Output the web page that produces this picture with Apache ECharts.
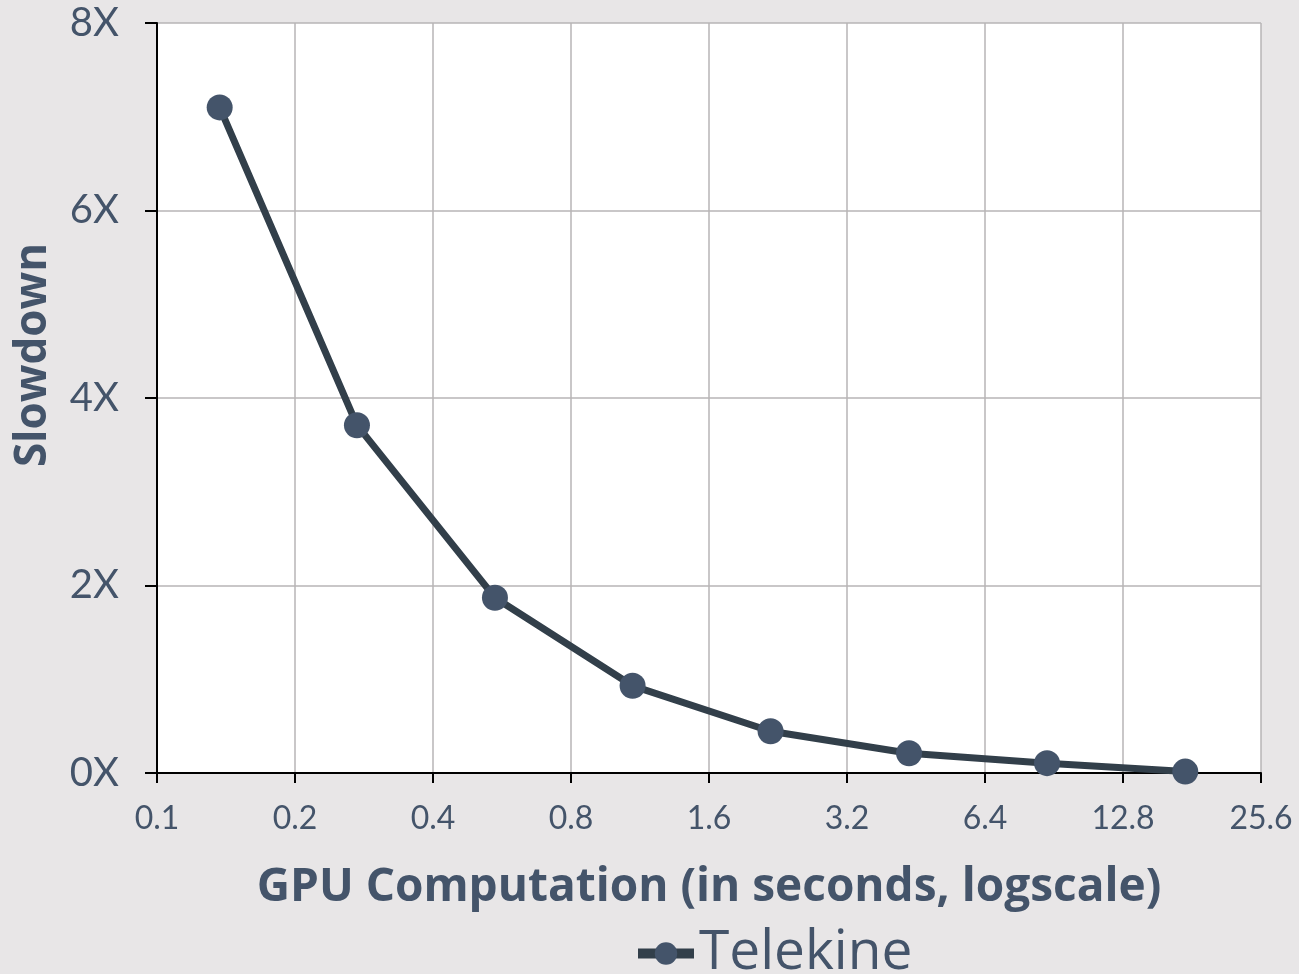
<!DOCTYPE html>
<html><head><meta charset="utf-8">
<script src="https://cdn.jsdelivr.net/npm/echarts@6/dist/echarts.min.js"></script>
<style>html,body{margin:0;padding:0;background:#e8e6e7;}#c{width:1299px;height:974px;}</style>
</head><body><div id="c"></div>
<script>
// GPU computation time in seconds (log scale, base 2)
const gpuSeconds = [0.137, 0.273, 0.546, 1.09, 2.18, 4.37, 8.74, 17.5];
// Slowdown factor
const telekine = [7.10, 3.71, 1.87, 0.93, 0.445, 0.21, 0.105, 0.015];
const xTickLabels = ['0.1','0.2','0.4','0.8','1.6','3.2','6.4','12.8','25.6'];
const yTickLabels = ['0X','2X','4X','6X','8X'];
const xBase = 0.1;

const textColor = '#44546a';
const font = 'Lato';
const boldFont = 'Open Sans';
const chart = echarts.init(document.getElementById('c'), null, {renderer:'canvas'});
const pts = gpuSeconds.map((s,i)=>[Math.log2(s/xBase), telekine[i]]);
chart.setOption({
  backgroundColor:'#e8e6e7',
  animation:false,
  grid:{left:157,right:38,top:23,bottom:201,show:true,backgroundColor:'#ffffff',borderWidth:0},
  legend:{top:921,left:628,itemWidth:56,itemHeight:28,itemGap:6,
    lineStyle:{width:10,color:'#323f4a'},
    textStyle:{fontFamily:boldFont,fontSize:55,color:textColor},data:['Telekine']},
  xAxis:{type:'value',min:0,max:8,interval:1,
    name:'GPU Computation (in seconds, logscale)',nameLocation:'middle',nameGap:92,
    nameTextStyle:{fontFamily:boldFont,fontWeight:'bold',fontSize:46,color:textColor},
    axisLine:{lineStyle:{color:'#000',width:2}},
    axisTick:{show:true,length:10,lineStyle:{color:'#000',width:2}},
    axisLabel:{fontFamily:font,fontSize:32,color:textColor,margin:30,
      formatter:v=>xTickLabels[Math.round(v)]},
    splitLine:{show:true,lineStyle:{color:'#b7b5b6',width:1.5}}},
  yAxis:{type:'value',min:0,max:8,interval:2,
    name:'Slowdown',nameLocation:'middle',nameGap:102,nameRotate:90,
    nameTextStyle:{fontFamily:boldFont,fontWeight:'bold',fontSize:44,color:textColor,
      padding:[0,0,0,86]},
    axisLine:{show:true,lineStyle:{color:'#000',width:2}},
    axisTick:{show:true,length:12,lineStyle:{color:'#000',width:2}},
    axisLabel:{fontFamily:font,fontSize:40,color:textColor,margin:38,
      formatter:v=>yTickLabels[Math.round(v/2)]},
    splitLine:{show:true,lineStyle:{color:'#b7b5b6',width:1.5}}},
  series:[{name:'Telekine',type:'line',data:pts,symbol:'circle',symbolSize:26,
    lineStyle:{color:'#323f4a',width:7},itemStyle:{color:'#44546a'},z:3}]
});
</script></body></html>
